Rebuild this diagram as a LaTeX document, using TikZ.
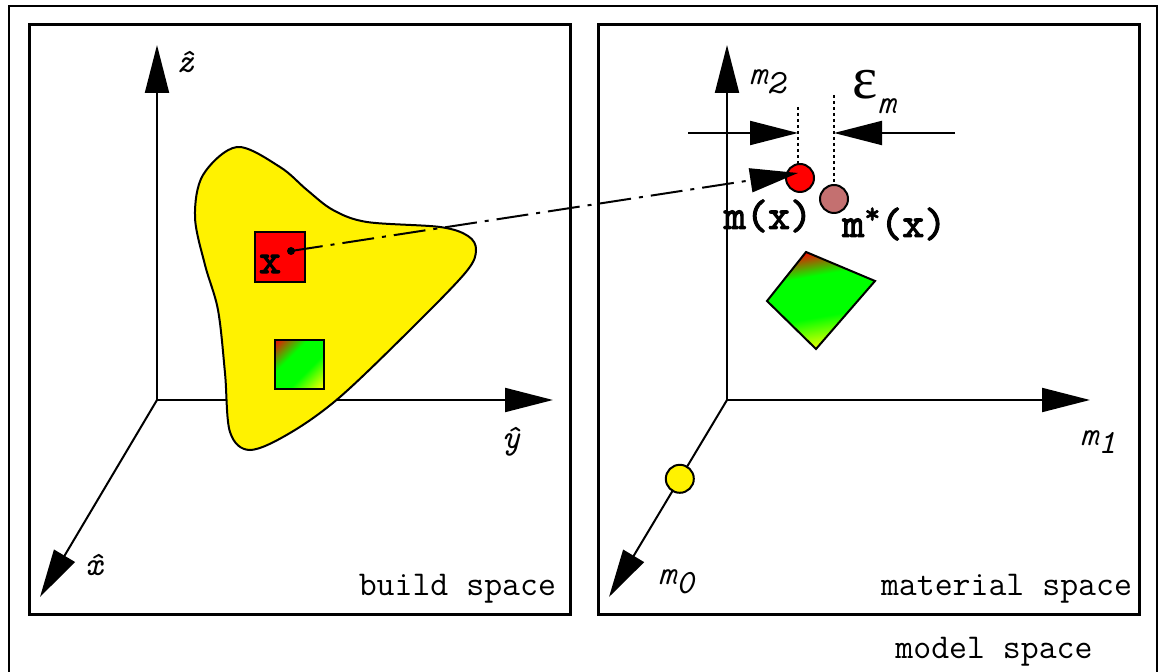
\documentclass[tikz,border=0pt]{standalone}
\usepackage{fontspec}
\setmainfont{Liberation Serif}
\newfontfamily\heavymono[Extension=.otf, FakeBold=2.5]{lmmono10-regular}
\usetikzlibrary{arrows.meta}

\pgfdeclareverticalshading{cubefade}{100bp}{color(0bp)=(yellow); color(16bp)=(yellow); color(40bp)=(green); color(62bp)=(green); color(86bp)=(red); color(100bp)=(red)}
\pgfdeclareverticalshading{tetfade}{100bp}{color(0bp)=(yellow); color(25bp)=(yellow); color(42bp)=(green); color(63bp)=(green); color(76bp)=(red); color(100bp)=(red)}
\definecolor{shifted}{RGB}{196,112,112}

\tikzset{
  frame/.style={line width=1.5pt},
  axis/.style={line width=1pt, -{Triangle[length=24pt,width=12pt]}},
  marker/.style={circle, draw, line width=1pt, minimum size=14pt, inner sep=0pt},
  guide/.style={line width=1pt, dash pattern=on 1.5pt off 1.5pt},
  axislabel/.style={font=\ttfamily\itshape\fontsize{17}{17}\selectfont},
  spacelabel/.style={font=\ttfamily\fontsize{17.4}{17.4}\selectfont},
  pointlabel/.style={font=\heavymono\fontsize{21}{21}\selectfont, inner sep=0pt},
}

\begin{document}
\begin{tikzpicture} [x=0.5pt,y=-0.5pt]

\useasboundingbox (0,0) rectangle (1160,672);

%\draw [step=50, dotted] (0,0) grid (1160,672);

\draw [line width=1pt] (9,672) -- (9,6) -- (1157,6) -- (1157,672);
\draw [frame] (29,25) rectangle (570,614);
\draw [frame] (598,25) rectangle (1139,614);

% build space
\coordinate (bo) at (157,400);
\coordinate (bz) at (157,45);
\coordinate (by) at (553,400);
\coordinate (bx) at (40,597);
\draw [axis] (bo) -- (bz);
\draw [axis] (bo) -- (by);
\draw [axis] (bo) -- (bx);
\node [axislabel] (zlab) at (185,62) {\^{z}};
\node [axislabel] (ylab) at (511,442) {\^{y}};
\node [axislabel] (xlab) at (94,565) {\^{x}};
\node [spacelabel, anchor=base east] (build) at (563,595) {build space};

\filldraw [fill=yellow, line width=1pt] plot [smooth cycle, tension=0.55] coordinates
  {(237,147) (280,167) (307,190) (333,210) (367,222) (440,227) (468,236) (476,250)
   (466,272) (413,327) (340,397) (290,433) (250,450) (230,432) (225,373) (218,310)
   (205,265) (195,217) (203,175)};

\draw [line width=1pt, fill=red] (255,232) rectangle (305,282);
\node [pointlabel] (xpt) at (270,264) {x};
\fill (291,251) circle [radius=4];
\coordinate (xdot) at (291,251);
\shade [shading=cubefade, shading angle=45] (275,340) rectangle (324,389);
\draw [line width=1pt] (275,340) rectangle (324,389);

% material space
\coordinate (mo) at (727,400);
\coordinate (mtwo) at (727,45);
\coordinate (mone) at (1090,400);
\coordinate (mzero) at (609,597);
\draw [axis] (mo) -- (mtwo);
\draw [axis] (mo) -- (mone);
\draw [axis] (mo) -- (mzero) node [marker, fill=yellow, pos=0.4] (yel) {};
\node [axislabel] (mtwolab) at (767,82) {m\raisebox{-0.6ex}{2}};
\node [axislabel] (monelab) at (1098,442) {m\raisebox{-0.6ex}{1}};
\node [axislabel] (mzerolab) at (676,582) {m\raisebox{-0.6ex}{0}};
\node [spacelabel, anchor=base east] (material) at (1139,595) {material space};
\node [spacelabel, anchor=base] (model) at (994,658) {model space};

\shade [shading=tetfade, shading angle=10] (806,252) -- (875,281) -- (816,349) -- (767,301) -- cycle;
\draw [line width=1pt, line join=miter] (806,252) -- (875,281) -- (816,349) -- (767,301) -- cycle;

\draw [guide] (798,107) -- (798,170);
\draw [guide] (834,95) -- (834,186);
\node [marker, fill=red] (mx) at (800,178) {};
\node [marker, fill=shifted] (mstar) at (834,199) {};
\node [pointlabel] (mxlab) at (768,216) {m(x)};
\node [pointlabel, anchor=west] (mstarlab) at (842,224) {m\raisebox{0.75ex}{\fontsize{15}{15}\selectfont*}(x)};

\coordinate (dimL) at (688,133);
\coordinate (dimR) at (955,133);
\draw [axis] (dimL) -- (798,133);
\draw [axis] (dimR) -- (834,133);
\node [anchor=west, inner sep=0pt] (eps) at (852,92) {\fontsize{30}{30}\selectfont ε\raisebox{-0.55ex}{\ttfamily\itshape\fontsize{17}{17}\selectfont m}};

% mapping
\coordinate (mtip) at (798,173);
\draw [line width=1pt, dash pattern=on 16pt off 4pt on 2pt off 4pt, -{Triangle[length=24pt,width=12pt]}] (xdot) -- (mtip);

\end{tikzpicture}
\end{document}
